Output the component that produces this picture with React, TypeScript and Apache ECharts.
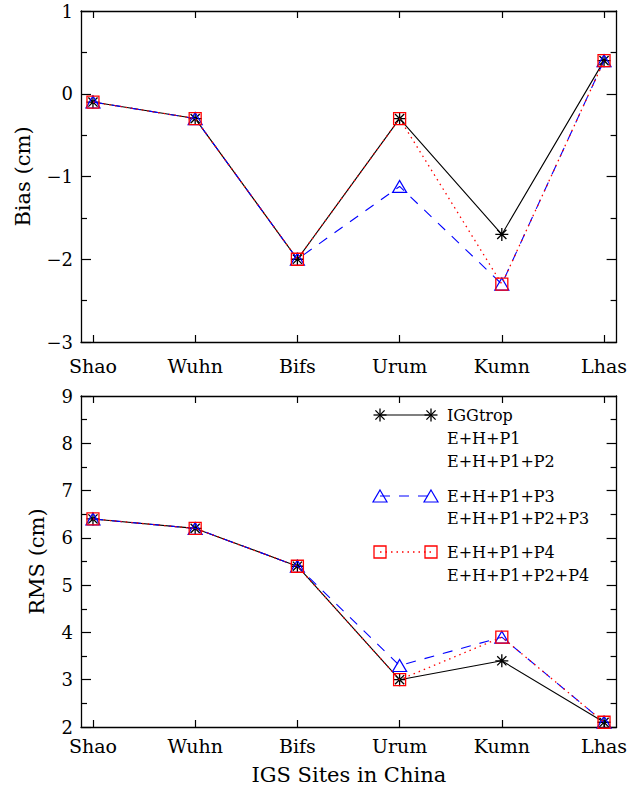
import React, { useEffect, useRef } from "react";
import * as echarts from "echarts";

const sites = ["Shao", "Wuhn", "Bifs", "Urum", "Kumn", "Lhas"];
const siteIndex = [0, 1, 2, 3, 4, 5];

const biasIGG = [-0.1, -0.3, -2.0, -0.3, -1.7, 0.4];
const biasP3 = [-0.1, -0.3, -2.0, -1.12, -2.3, 0.4];
const biasP4 = [-0.1, -0.3, -2.0, -0.3, -2.3, 0.4];

const rmsIGG = [6.4, 6.2, 5.4, 3.0, 3.4, 2.1];
const rmsP3 = [6.4, 6.2, 5.4, 3.3, 3.9, 2.1];
const rmsP4 = [6.4, 6.2, 5.4, 3.0, 3.9, 2.1];

const legendBlack = ["IGGtrop", "E+H+P1", "E+H+P1+P2"];
const legendBlue = ["E+H+P1+P3", "E+H+P1+P2+P3"];
const legendRed = ["E+H+P1+P4", "E+H+P1+P2+P4"];

const FONT = "DejaVu Serif";
const BLUE = "#0000ff";
const RED = "#ff0000";
const ASTERISK =
  "path://M0,-10L0,10M-10,0L10,0M-7.07,-7.07L7.07,7.07M-7.07,7.07L7.07,-7.07";

const toPts = (vals: number[]) => siteIndex.map((i) => [i, vals[i]]);
const minusFmt = (v: number) => (v < 0 ? "\u2212" + Math.abs(v) : String(v));

function xAxes(gridIndex: number, labelMargin: number, name?: string) {
  const common = {
    type: "value",
    gridIndex,
    min: -0.117,
    max: 5.123,
    splitLine: { show: false },
    axisLine: { show: true, onZero: false, lineStyle: { color: "#000", width: 1.3 } },
    axisTick: { show: true, inside: true, length: 7, customValues: siteIndex, lineStyle: { color: "#000", width: 1.2 } },
  };
  return [
    {
      ...common,
      position: "bottom",
      name: name || "",
      nameLocation: "middle",
      nameGap: 37,
      nameTextStyle: { fontFamily: FONT, fontSize: 21, color: "#000" },
      axisLabel: {
        show: true,
        customValues: siteIndex,
        formatter: (v: number) => sites[Math.round(v)],
        fontFamily: FONT,
        fontSize: 19,
        color: "#000",
        margin: labelMargin,
      },
    },
    { ...common, position: "top", axisLabel: { show: false } },
  ];
}

function yAxes(gridIndex: number, min: number, max: number, name: string, nameGap: number) {
  const common = {
    type: "value",
    gridIndex,
    min,
    max,
    interval: 1,
    splitLine: { show: false },
    axisLine: { show: true, onZero: false, lineStyle: { color: "#000", width: 1.3 } },
    axisTick: { show: true, inside: true, length: 10, lineStyle: { color: "#000", width: 1.2 } },
    minorTick: { show: true, splitNumber: 2, length: 6, lineStyle: { color: "#000", width: 1.2 } },
  };
  return [
    {
      ...common,
      position: "left",
      name,
      nameLocation: "middle",
      nameRotate: 90,
      nameGap,
      nameTextStyle: { fontFamily: FONT, fontSize: 21, color: "#000" },
      axisLabel: { formatter: minusFmt, fontFamily: FONT, fontSize: 18, color: "#000", margin: 8 },
    },
    { ...common, position: "right", axisLabel: { show: false } },
  ];
}

function seriesSet(xIdx: number, yIdx: number, a: number[], b: number[], c: number[]) {
  const base = { type: "line", xAxisIndex: xIdx, yAxisIndex: yIdx, clip: true, emphasis: { disabled: true }, silent: true };
  return [
    {
      ...base,
      name: "IGGtrop",
      data: toPts(a),
      symbol: ASTERISK,
      symbolSize: 13,
      lineStyle: { color: "#000", width: 1.1, type: "solid" },
      itemStyle: { color: "none", borderColor: "#000", borderWidth: 1.3 },
      z: 2,
    },
    {
      ...base,
      name: "E+H+P1+P3",
      data: toPts(b),
      symbol: "triangle",
      symbolSize: [14, 12],
      lineStyle: { color: BLUE, width: 1.1, type: [10, 9] },
      itemStyle: { color: "none", borderColor: BLUE, borderWidth: 1.2 },
      z: 3,
    },
    {
      ...base,
      name: "E+H+P1+P4",
      data: toPts(c),
      symbol: "rect",
      symbolSize: 12,
      lineStyle: { color: RED, width: 1.3, type: [1.5, 4] },
      itemStyle: { color: "none", borderColor: RED, borderWidth: 1.3 },
      z: 4,
    },
  ];
}

function legendGraphics() {
  const els: any[] = [];
  const x1 = 380;
  const x2 = 431;
  const tx = 447;
  const textEl = (t: string, y: number) => ({
    type: "text",
    x: tx,
    y,
    style: { text: t, fontFamily: FONT, fontSize: 16, fill: "#000", verticalAlign: "middle", align: "left" },
  });
  const star = (cx: number, cy: number) => {
    const r = 6.5;
    const d = r * 0.707;
    return [
      [cx, cy - r, cx, cy + r],
      [cx - r, cy, cx + r, cy],
      [cx - d, cy - d, cx + d, cy + d],
      [cx - d, cy + d, cx + d, cy - d],
    ].map((s) => ({
      type: "line",
      shape: { x1: s[0], y1: s[1], x2: s[2], y2: s[3] },
      style: { stroke: "#000", lineWidth: 1.3 },
    }));
  };
  const yb = [415, 438, 461];
  els.push({ type: "line", shape: { x1, y1: yb[0], x2, y2: yb[0] }, style: { stroke: "#000", lineWidth: 1.1 } });
  els.push(...star(x1, yb[0]), ...star(x2, yb[0]));
  legendBlack.forEach((t, i) => els.push(textEl(t, yb[i])));
  const yt = [496, 518];
  els.push({ type: "line", shape: { x1, y1: yt[0], x2, y2: yt[0] }, style: { stroke: BLUE, lineWidth: 1.1, lineDash: [10, 9] } });
  const tri = (cx: number, cy: number) => ({
    type: "polygon",
    shape: { points: [[cx, cy - 6], [cx + 7, cy + 6], [cx - 7, cy + 6]] },
    style: { fill: "none", stroke: BLUE, lineWidth: 1.2 },
  });
  els.push(tri(x1, yt[0]), tri(x2, yt[0]));
  legendBlue.forEach((t, i) => els.push(textEl(t, yt[i])));
  const yr = [552, 575];
  els.push({ type: "line", shape: { x1, y1: yr[0], x2, y2: yr[0] }, style: { stroke: RED, lineWidth: 1.3, lineDash: [1.5, 4] } });
  const sq = (cx: number, cy: number) => ({
    type: "rect",
    shape: { x: cx - 6, y: cy - 6, width: 12, height: 12 },
    style: { fill: "none", stroke: RED, lineWidth: 1.3 },
  });
  els.push(sq(x1, yr[0]), sq(x2, yr[0]));
  legendRed.forEach((t, i) => els.push(textEl(t, yr[i])));
  return els;
}

export default function App() {
  const ref = useRef<HTMLDivElement>(null);
  useEffect(() => {
    if (!ref.current) return;
    const chart = echarts.init(ref.current, null, { renderer: "svg" });
    const option: any = {
      animation: false,
      backgroundColor: "#fff",
      grid: [
        { left: 81, right: 12, top: 11, height: 331 },
        { left: 81, right: 12, top: 396, height: 331 },
      ],
      xAxis: [...xAxes(0, 14), ...xAxes(1, 9, "IGS Sites in China")],
      yAxis: [...yAxes(0, -3, 1, "Bias (cm)", 48), ...yAxes(1, 2, 9, "RMS (cm)", 34)],
      series: [...seriesSet(0, 0, biasIGG, biasP3, biasP4), ...seriesSet(2, 2, rmsIGG, rmsP3, rmsP4)],
      graphic: legendGraphics(),
    };
    chart.setOption(option);
    return () => chart.dispose();
  }, []);
  return (
    <div
      ref={ref}
      style={{ position: "fixed", left: 0, top: 0, width: 630, height: 790, background: "#fff" }}
    />
  );
}
